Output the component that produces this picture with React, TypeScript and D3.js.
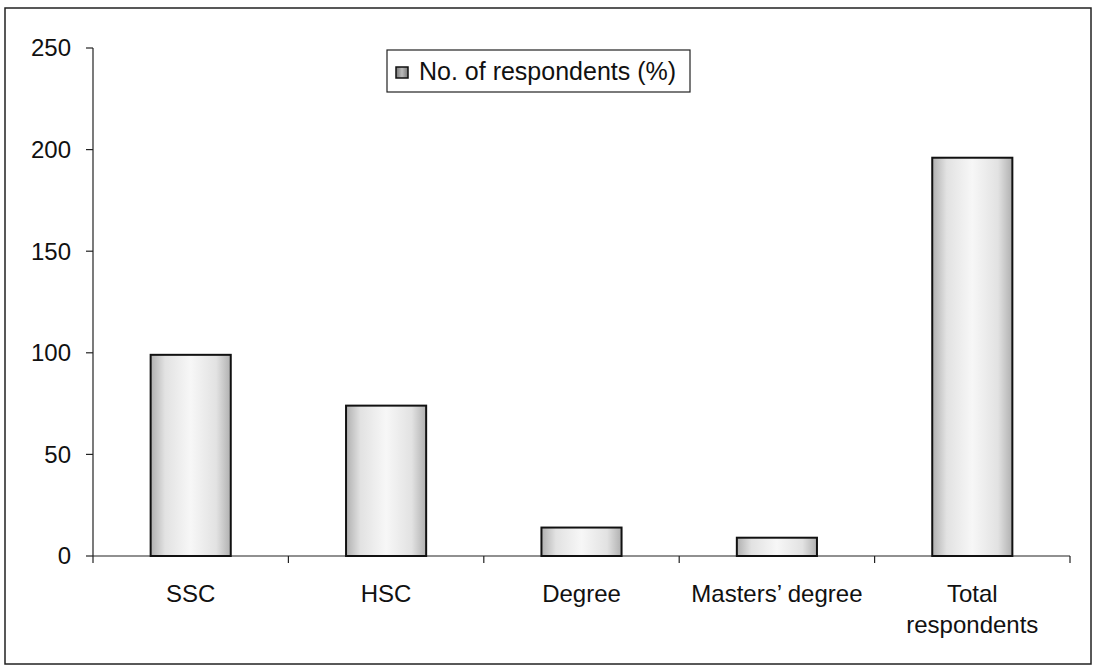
import React from "react";
import * as d3 from "d3";

const categories = ["SSC", "HSC", "Degree", "Masters’ degree", "Total respondents"];
const values = [99, 74, 14, 9, 196];
const yTicks = [0, 50, 100, 150, 200, 250];
const seriesName = "No. of respondents (%)";

export default function App() {
  const W = 1095, H = 672;
  const left = 93, right = 1070, top = 48, bottom = 556;
  const x = d3.scaleBand<string>().domain(categories).range([left, right]).paddingInner(0.59).paddingOuter(0.295);
  const xb = d3.scaleBand<string>().domain(categories).range([left, right]);
  const y = d3.scaleLinear().domain([0, 250]).range([bottom, top]);
  const font = "Arial, 'Liberation Sans', sans-serif";
  return (
    <svg width={W} height={H} style={{ position: "absolute", left: 0, top: 0, background: "#fff" }}>
      <defs>
        <linearGradient id="gh" x1="0" x2="1" y1="0" y2="0">
          <stop offset="0" stopColor="#b0b0b0" />
          <stop offset="0.18" stopColor="#e2e2e2" />
          <stop offset="0.5" stopColor="#f7f7f7" />
          <stop offset="0.82" stopColor="#e2e2e2" />
          <stop offset="1" stopColor="#b0b0b0" />
        </linearGradient>
        <linearGradient id="gs" x1="0" x2="1" y1="0" y2="0">
          <stop offset="0" stopColor="#777" />
          <stop offset="0.5" stopColor="#bbb" />
          <stop offset="1" stopColor="#777" />
        </linearGradient>
      </defs>
      <rect x={5} y={8} width={1086} height={656} fill="none" stroke="#222" strokeWidth={1.5} />
      {/* y axis */}
      <line x1={left} x2={left} y1={top} y2={bottom} stroke="#222" strokeWidth={1.2} />
      {yTicks.map(t => (
        <g key={t}>
          <line x1={left - 7} x2={left} y1={y(t)} y2={y(t)} stroke="#222" strokeWidth={1.2} />
          <text x={71} y={y(t)} dy="0.35em" textAnchor="end" fontFamily={font} fontSize={24} fill="#111">{t}</text>
        </g>
      ))}
      {/* x axis */}
      <line x1={left} x2={right} y1={bottom} y2={bottom} stroke="#222" strokeWidth={1.2} />
      {[...categories.map(c => xb(c)!), right].map((v, i) => (
        <line key={i} x1={v} x2={v} y1={bottom} y2={bottom + 7} stroke="#222" strokeWidth={1.2} />
      ))}
      {categories.map((c, i) => (
        <rect key={c} x={x(c)} y={y(values[i])} width={x.bandwidth()} height={bottom - y(values[i])}
          fill="url(#gh)" stroke="#111" strokeWidth={2} />
      ))}
      {categories.map(c => {
        const cx = xb(c)! + xb.bandwidth() / 2;
        const parts = c === "Total respondents" ? ["Total", "respondents"] : [c];
        return (
          <text key={c} x={cx} y={602} textAnchor="middle" fontFamily={font} fontSize={24} fill="#111">
            {parts.map((p, j) => <tspan key={j} x={cx} dy={j === 0 ? 0 : 31}>{p}</tspan>)}
          </text>
        );
      })}
      {/* legend */}
      <rect x={387} y={50} width={303} height={42} fill="#fff" stroke="#222" strokeWidth={1.2} />
      <rect x={396} y={67} width={12} height={11} fill="url(#gs)" stroke="#111" strokeWidth={1.5} />
      <text x={419} y={80} fontFamily={font} fontSize={25} fill="#111">{seriesName}</text>
    </svg>
  );
}
